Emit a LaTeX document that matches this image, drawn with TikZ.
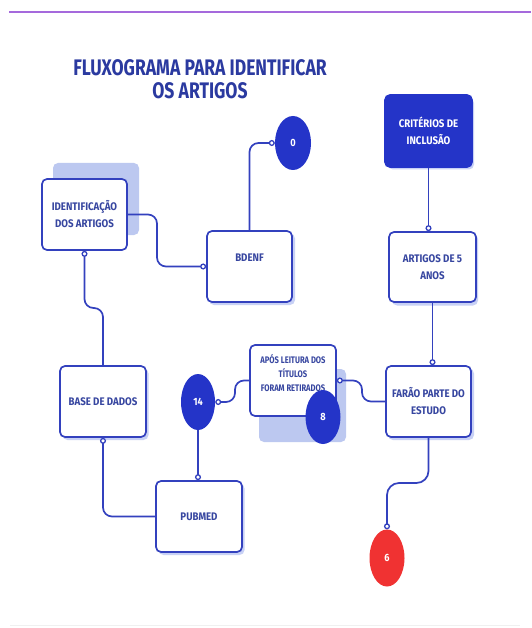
\documentclass[tikz,border=0pt]{standalone}
\usepackage{fontspec}
\usetikzlibrary{shapes.geometric,arrows.meta}
\newfontfamily\titlefont[FakeStretch=0.78]{Fira Sans}
\newfontfamily\boxfont[FakeStretch=0.88]{Fira Sans}
\newfontfamily\smallboxfont[FakeStretch=0.80]{Fira Sans}
\definecolor{lineblue}{RGB}{51,65,190}
\definecolor{fillblue}{RGB}{36,52,200}
\definecolor{txtblue}{RGB}{55,70,160}
\definecolor{titleblue}{RGB}{43,58,160}
\definecolor{shadowblue}{RGB}{188,200,240}
\definecolor{softshadow}{RGB}{200,209,245}
\definecolor{redfill}{RGB}{240,50,50}
\definecolor{purpleline}{RGB}{165,105,220}
\tikzset{
  boxnode/.style={draw=lineblue, line width=1.7pt, fill=white, rounded corners=5pt,
    minimum width=85pt, minimum height=71pt, inner sep=0pt, align=center,
    text=txtblue, font=\boxfont\bfseries\fontsize{11}{17}\selectfont},
  filledbox/.style={boxnode, fill=fillblue, draw=fillblue, text=white},
  lbl/.style={align=center, text=txtblue, inner sep=0pt,
    font=\boxfont\bfseries\fontsize{11}{14}\selectfont},
  smalllbl/.style={lbl, font=\smallboxfont\bfseries\fontsize{9.5}{14}\selectfont},
  blob/.style={ellipse, fill=fillblue, inner sep=0pt, text=white,
    font=\boxfont\bfseries\fontsize{10.5}{12}\selectfont},
  redblob/.style={blob, fill=redfill},
  conn/.style={draw=lineblue, line width=1.7pt, rounded corners=9pt},
  endo/.style={conn, -{Circle[open,length=6pt,width=6pt,fill=white,line width=1.3pt]}},
  starto/.style={conn, {Circle[open,length=6pt,width=6pt,fill=white,line width=1.3pt]}-},
  titletext/.style={text=titleblue, inner sep=0pt, anchor=base,
    font=\titlefont\bfseries\fontsize{22.5}{24}\selectfont}
}
\begin{document}
\begin{tikzpicture}[x=1pt,y=-1pt]
\useasboundingbox (0,0) rectangle (531,628);
\fill[white] (0,0) rectangle (531,628);
% top and bottom rules
\draw[purpleline, line width=2pt] (9,12) -- (531,12);
\draw[black!6, line width=0.8pt] (10,625) -- (520,625);
% title
\node[titletext] (t1) at (200,76) {FLUXOGRAMA PARA IDENTIFICAR};
\node[titletext] (t2) at (200,99) {OS ARTIGOS};
% large shadows
\fill[shadowblue, rounded corners=5pt] (53,163) rectangle (139,235);
\fill[shadowblue, rounded corners=5pt] (259,369) rectangle (346,442);
% small drop shadows
\foreach \cx/\cy in {249.5/266.5, 428.5/131, 432.5/267, 428.5/401.5, 103/401.5, 199/516.5}{
  \fill[softshadow, rounded corners=5pt] (\cx-40.5,\cy-33) rectangle (\cx+45.5,\cy+38.5);
}
% boxes
\node[boxnode] (ident) at (84.5,214.5) {IDENTIFICAÇÃO\\DOS ARTIGOS};
\node[boxnode] (bdenf) at (249.5,266.5) {};
\node[lbl] (bdenflbl) at (249.5,258) {BDENF};
\node[filledbox, minimum width=87pt, minimum height=72pt] (crit) at (428.5,131) {CRITÉRIOS DE\\INCLUSÃO};
\node[boxnode, minimum width=87pt, minimum height=70pt] (artigos) at (432.5,267) {ARTIGOS DE 5\\ANOS};
\node[boxnode] (farao) at (428.5,401.5) {FARÃO PARTE DO\\ESTUDO};
\node[boxnode, minimum width=86pt] (apos) at (293,380.5) {};
\node[smalllbl] (aposlbl) at (293,373) {APÓS LEITURA DOS\\TÍTULOS\\FORAM RETIRADOS};
\node[boxnode, minimum width=86pt] (base) at (103,401.5) {BASE DE DADOS};
\node[boxnode, minimum width=86pt] (pubmed) at (199,516.5) {PUBMED};
% ellipses
\node[blob, minimum width=36pt, minimum height=54pt] (e0) at (293,143) {0};
\node[blob, minimum width=35pt, minimum height=54pt] (e8) at (323,417) {8};
\node[blob, minimum width=34pt, minimum height=56pt] (e14) at (198,402) {14};
\node[redblob, minimum width=35pt, minimum height=57pt] (e6) at (387,558) {6};
% connectors
\draw[endo] (ident.east) -- (157,214.5) -- (157,266.5) -- (bdenf.west);
\draw[endo] (bdenf.north) -- (249.5,143) -- (e0.west);
\draw[endo] (crit.south) -- (crit.south |- artigos.north);
\draw[endo] (artigos.south) -- (artigos.south |- farao.north);
\draw[endo] (farao.west) -- (362,401.5) -- (362,380.5) -- (apos.east);
\draw[endo] (apos.west) -- (235,380.5) -- (235,402) -- (e14.east);
\draw[endo] (e14.south) -- (e14.south |- pubmed.north);
\draw[starto] (base.south) -- (103,516.5) -- (pubmed.west);
\draw[starto] (ident.south) -- (84.5,308) -- (103,308) -- (base.north);
\draw[endo, rounded corners=12pt] (farao.south) -- (428.5,483) -- (387,483) -- (e6.north);
\end{tikzpicture}
\end{document}
